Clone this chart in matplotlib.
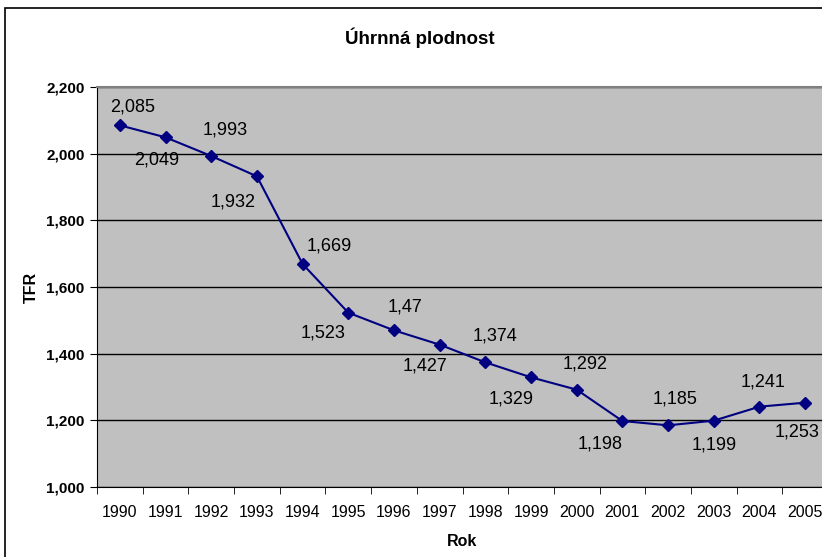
import matplotlib.pyplot as plt
from matplotlib.ticker import FuncFormatter, MultipleLocator, FixedLocator

plt.rcParams['font.family'] = ['Liberation Sans', 'DejaVu Sans']

# data
years = [1990, 1991, 1992, 1993, 1994, 1995, 1996, 1997,
         1998, 1999, 2000, 2001, 2002, 2003, 2004, 2005]
tfr = [2.085, 2.049, 1.993, 1.932, 1.669, 1.523, 1.47, 1.427,
       1.374, 1.329, 1.292, 1.198, 1.185, 1.199, 1.241, 1.253]
labels = ['2,085', '2,049', '1,993', '1,932', '1,669', '1,523', '1,47', '1,427',
          '1,374', '1,329', '1,292', '1,198', '1,185', '1,199', '1,241', '1,253']

# label offsets in pixels (dx, dy up)
offsets_px = [(13, 18), (-9, -23), (14, 26), (-24, -26), (27, 18), (-25, -20), (11, 23), (-15, -21),
              (10, 26), (-20, -22), (8, 26), (-22, -23), (7, 26), (0, -24), (4, 25), (-8, -29)]

fig = plt.figure(figsize=(8.22, 5.57), dpi=100)
ax = fig.add_axes([97 / 822, 1 - 487 / 557, 731 / 822, 400 / 557])

# outer chart border
fig.patches.append(plt.Rectangle((5 / 822, -0.1), 1.2, 1 - 8 / 557 + 0.1,
                                 transform=fig.transFigure, fill=False,
                                 edgecolor='black', linewidth=1.2))

x = list(range(len(years)))
ax.set_facecolor('#C0C0C0')
ax.plot(x, tfr, color='#000080', marker='D', markersize=6.5, linewidth=1.5, zorder=3)

for i in range(len(x)):
    dx, dy = offsets_px[i]
    ax.annotate(labels[i], (x[i], tfr[i]), xytext=(dx * 0.72, dy * 0.72), textcoords='offset points',
                ha='center', va='center', fontsize=13)

ax.set_xlim(-0.5, len(years) - 0.5)
ax.set_ylim(1.0, 2.2)
ax.yaxis.set_major_locator(MultipleLocator(0.2))
ax.yaxis.set_major_formatter(FuncFormatter(lambda v, p: f'{v:.3f}'.replace('.', ',')))
ax.grid(axis='y', color='black', linewidth=1)
ax.set_axisbelow(True)

ax.set_xticks(x)
ax.set_xticklabels([str(y) for y in years], fontsize=11.5)
ax.xaxis.set_minor_locator(FixedLocator([i - 0.5 for i in range(len(years) + 1)]))
ax.tick_params(axis='x', which='major', length=0, pad=13)
ax.tick_params(axis='x', which='minor', length=5, direction='out')
ax.tick_params(axis='y', length=5, direction='out', pad=4, labelsize=11)
for t in ax.get_yticklabels():
    t.set_fontweight('bold')

for s in ['left', 'bottom']:
    ax.spines[s].set_color('black')
ax.spines['top'].set_color('#808080')
ax.spines['top'].set_linewidth(1.5)
ax.spines['right'].set_visible(False)

ax.set_ylabel('TFR', fontsize=11.5, fontweight='bold', labelpad=5)
ax.set_xlabel('Rok', fontsize=11.5, fontweight='bold', labelpad=10)
fig.text(420 / 822, 1 - 38 / 557, 'Úhrnná plodnost', ha='center', va='center',
         fontsize=13.5, fontweight='bold')

fig.savefig('out.png', dpi=100)
